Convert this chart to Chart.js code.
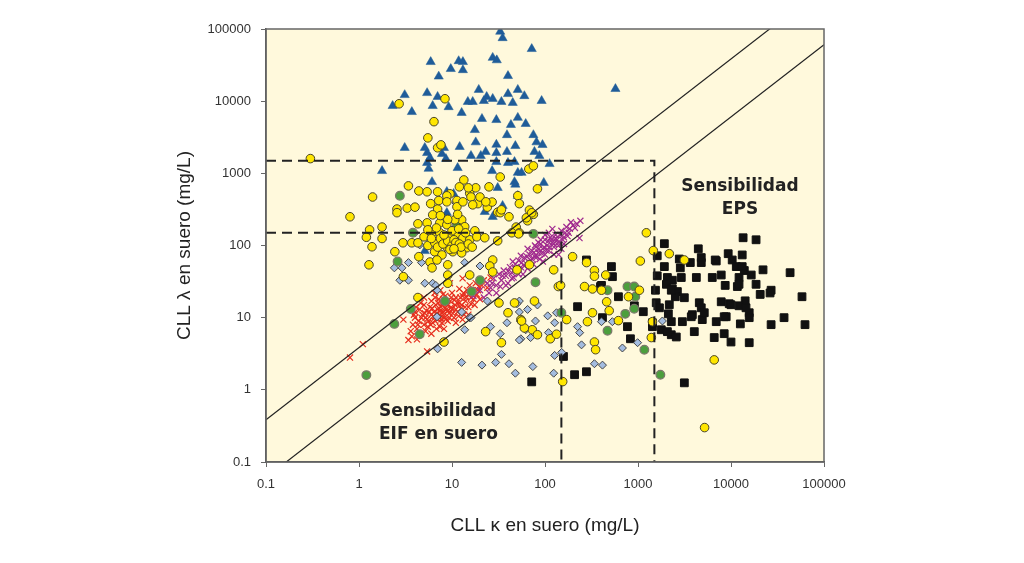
<!DOCTYPE html>
<html>
<head>
<meta charset="utf-8">
<script src="https://cdn.jsdelivr.net/npm/chart.js@4.4.1/dist/chart.umd.min.js"></script>
<style>
  html, body { margin: 0; padding: 0; background: #fff; }
  canvas { display: block; }
</style>
</head>
<body>
<canvas id="cllChart" width="1024" height="563"></canvas>
<script>
// [kappa, lambda] pairs in mg/L
const blueTriangles = [
  [33,92000],[35,75000],[72,53000],[5.9,35000],[11.8,36000],[13.1,35000],[27.4,40000],[30.3,37000],
  [9.7,28000],[13.1,27000],[7.2,22000],[40,22400],[3.1,12200],[5.4,13000],[7,11500],[19.4,14400],
  [23.6,11500],[27.4,10800],[40,12600],[51,14400],[60,11800],[2.3,8600],[6.2,8600],[9.2,8300],
  [14.8,9800],[16.7,9800],[22,10100],[34,9800],[45,9500],[92,10100],[3.7,7100],[12.7,6900],
  [21,5700],[30,5500],[51,5900],[43,4700],[62,4850],[17.6,4000],[39,3400],[75,3400],[18,2700],
  [30,2500],[48,2400],[81,2700],[94,2480],[3.1,2260],[5.1,2260],[8.2,2260],[12.1,2330],[5.4,1920],
  [7.8,1860],[16,1750],[20.4,1750],[23,1990],[30,1920],[39,1990],[77,1990],[87,1750],[5.8,1640],
  [8.6,1590],[30,1440],[47,1440],[112,1350],[1.77,1080],[5.4,1400],[5.6,1160],[11.5,1190],[27,1080],
  [40,1400],[51,1020],[56,1020],[6.1,760],[47,760],[97,740],[31,630],[572,14800],[8.8,555],[10.4,520],
  [48,700],[51,488],[35,355],[8.8,284],[22.5,293],[27.4,250],[5.1,84]
];
const yellowCircles = [
  [0.3,1600],[2.7,9200],[8.4,10800],[6.4,5200],[5.5,3100],[7.0,2260],[7.6,2480],[33,890],[13.4,810],
  [67,1150],[75,1270],[83,610],[51,490],[53,380],[1.4,470],[3.4,670],[4.4,570],[5.4,555],[0.8,250],
  [1.3,165],[1.2,130],[1.77,180],[1.77,125],[2.56,320],[2.56,285],[3.3,330],[4,340],[5.9,380],[7,320],
  [7.2,420],[9.5,520],[11.3,420],[15.5,530],[18,630],[15,630],[19,380],[24,340],[27,400],[20,470],
  [25,650],[31,290],[33,285],[41,250],[49,180],[65,220],[75,270],[68,310],[53,150],[16,470],[12,650],
  [7.0,555],[8.8,488],[23.1,403],[34,312],[8.8,403],[11.3,344],[13.1,403],[16.7,366],[12.7,227],
  [4.3,200],[5.4,206],[6.2,266],[7.4,206],[8.8,194],[10.7,227],[13.7,182],[17.6,160],[1.38,96],
  [2.43,82],[2.97,109],[3.7,109],[4.3,109],[5.0,132],[6.1,150],[7.4,150],[8.4,120],[9.5,132],
  [11.3,141],[13.1,128],[15.5,120],[18.5,132],[22.5,128],[8.8,96],[11.3,96],[14.4,93],[6.5,82],
  [7.8,74],[10.2,82],[12.7,79],[5.8,59],[6.9,63],[9.0,54],[6.1,49],[4.4,70],[1.28,54],[3.0,37],
  [9.0,39],[9.0,30],[27.4,63],[25.5,52],[27.4,43],[31,116],[44,150],[52,145],[50,46],[68,54],
  [63,242],[72,284],[5.5,100],[6.5,110],[7,95],[7.5,125],[8,105],[9,115],[10,100],[10.5,120],
  [11,110],[12,105],[12.5,95],[9.5,88],[10.5,90],[6,125],[8.2,140],[10,160],[11.8,170],[14,150],
  [15,105],[16.5,95],[6.8,175],[5.5,165],[9,230],[7.5,260],[11.5,270],
  [15.5,39],[4.3,19],[32,16],[47,16],[77,17],[139,27],[40,11.7],[55,9.4],[73,6.8],[23,6.4],
  [34,4.5],[8.2,4.6],[83,5.8],[114,5.1],[133,5.9],[60,7.2],
  [1230,150],[1460,85],[2170,77],[3150,63],[1060,61],[198,70],[280,58],[340,45],[340,37.5],[450,39],
  [266,27],[324,25],[405,24],[1035,24],[790,19.5],[460,16.6],[490,12.5],[324,11.7],[286,8.8],
  [147,28],[124,46],[56,9],[171,9.4],[340,4.6],[350,3.6],[1390,5.3],[1430,8.8],[616,9.1],
  [155,1.3],[6600,2.6],[5200,0.3]
];
const greenCircles = [
  [2.75,488],[75,145],[3.8,150],[11.3,194],[2.6,60],[3.6,13.2],[2.4,8.2],[4.5,5.9],[8.4,17],
  [20,33],[16.3,23],[1.2,1.6],[79,31],[150,11.7],[770,27],[910,27],[470,24],[935,19.5],
  [730,11.3],[910,13.3],[470,6.6],[1170,3.6],[1740,1.62]
];
const grayDiamonds = [
  [3.4,33],[6.2,30],[6.7,28],[6.9,24],[6.9,10.3],[12.7,12],[15.5,10],[13.7,6.8],[7.0,3.7],
  [12.7,2.4],[21,2.2],[29.5,2.4],[34,3.1],[41,2.3],[48,1.7],[74,2.1],[124,1.7],[55,5.1],[70,5.3],
  [109,6.2],[26,7.5],[33,6],[39,8.5],[53,12],[65,13],[79,9],[83,15],[53,17],[107,10.6],[2.4,49],
  [2.9,49],[3.4,58],[4,150],[4.7,58],[2.75,33],[5.1,30],[13.7,58],[20,52],[24,17],[16,10],
  [133,11.7],[224,7.5],[247,4.2],[340,2.3],[415,2.2],[50,15.6],[55,8.8],[62,6.8],[53,4.9],
  [127,8.5],[127,3],[151,3.3],[236,6.2],[405,8.8],[530,8.8],[680,3.8],[990,4.5],[1830,9],
  [11,390],[4.5,102]
];
const blackSquares = [
  [1920,106],[4450,90],[13500,128],[18600,120],[1610,72],[2780,65],[3650,58],[4790,58],[6940,61],
  [9330,77],[10300,63],[13200,74],[1920,51],[2850,49],[11400,51],[13900,45],[22100,46],[43200,42],
  [1610,38],[2070,36],[2920,36],[4240,36],[6290,36],[7850,39],[12200,36],[16500,39],[2020,29],
  [2340,25],[2650,23],[8660,28],[11700,27],[18600,29],[27000,24],[58000,19.5],[2520,19.5],
  [3150,18.9],[20600,21],[1570,16.1],[1700,13.7],[2170,15.1],[4560,16.1],[7850,16.6],[9570,15.6],
  [14200,17.1],[518,51],[531,37],[395,27],[616,19.5],[914,14.6],[1140,12.1],[415,10],[770,7.5],
  [2120,11.3],[3840,11],[4910,9.4],[6940,8.8],[8880,10.3],[15700,11.7],[37200,10],[62500,8],
  [27000,8],[12600,8.2],[3000,8.8],[1430,7.5],[1780,6.8],[2280,5.8],[4030,6.4],[6600,5.3],
  [8450,6.0],[10000,4.6],[15700,4.5],[829,5.1],[224,14.2],[279,63],[208,1.62],[279,1.78],
  [72,1.29],[3150,1.25],[158,2.9],[405,28],[4790,68],[6770,63],[13200,51],[2340,33],[12200,29],
  [26300,22],[1540,24],[2280,24],[4790,13.7],[5160,11.7],[10000,15.1],[12200,14.6],[14500,13.7],
  [1430,8.5],[2280,8.8],[3740,10.3],[8450,10.3],[15700,10],[2070,6.4],[2580,5.4]
];
const purpleCrosses = [
  [17,20],[20,24],[22,19],[24,30],[26,26],[28,35],[30,28],[32,40],[34,33],[36,45],[38,38],[40,30],
  [42,50],[44,42],[46,36],[48,55],[50,46],[52,62],[55,50],[58,40],[60,68],[62,57],[65,48],[68,75],
  [70,62],[72,85],[75,55],[78,70],[80,95],[85,80],[88,65],[90,105],[95,90],[100,75],[100,120],
  [105,100],[110,85],[115,130],[120,110],[125,95],[130,140],[135,120],[140,100],[150,160],[160,130],
  [170,180],[180,150],[200,190],[220,200],[240,220],[150,90],[125,75],[95,60],[85,110],[110,150],
  [65,90],[55,72],[45,60],[38,28],[30,22],[120,170],[140,75],[160,105],[190,210],[235,127],
  [25,22],[27,30],[33,27],[35,38],[40,44],[44,35],[48,48],[52,40],[56,58],[60,52],[64,70],[68,58],
  [72,66],[76,80],[82,70],[86,90],[92,78],[98,95],[104,85],[108,115],[112,95],[118,120],[124,105],
  [130,125],[138,110],[145,140],[155,120],[165,150],[175,135],[185,170],[210,175],[100,140],[90,120],
  [78,100]
];
const redCrosses = [
  [3.4,4.9],[3.6,6.5],[3.8,8],[4,10],[4,12],[4.2,7],[4.4,9],[4.5,13],[4.6,6],[4.8,11],[5,8],[5,15],
  [5.2,10],[5.3,12.5],[5.5,7.5],[5.6,9],[5.8,14],[6,11],[6,17],[6.2,8.5],[6.4,12],[6.5,10],[6.7,15],
  [6.8,7],[7,13],[7,9.5],[7.2,18],[7.4,11],[7.6,14],[7.8,8.5],[8,12],[8,16],[8.3,10],[8.5,20],
  [8.7,13],[9,9],[9,15],[9.3,11.5],[9.6,17],[10,13],[10,22],[10.5,10],[10.8,15],[11,19],[11.5,12],
  [12,25],[12,16],[12.5,13.5],[13,20],[13.5,11],[14,17],[14.5,24],[15,14],[15.5,28],[16,19],[17,22],
  [17.5,15],[18,30],[19,24],[20,18],[21,28],[22,33],[24,26],[5.4,3.4],[1.1,4.3],[0.8,2.8],[4.2,5],
  [5,19],[6.5,22],[3.7,5.5],[8.2,7],[11,8.5],[7.5,24],[9.5,30],[13,35],[15,11],[4.6,16],[26,36],
  [3,9.4],[13,9.4],
  [4.3,8],[4.7,10],[5.1,11.5],[5.4,9.5],[5.7,12],[5.9,8],[6.1,13.5],[6.3,10.5],[6.6,9],[6.9,11.5],
  [7.1,16],[7.3,10],[7.5,12.5],[7.7,9.5],[7.9,15],[8.1,11],[8.4,13.5],[8.6,9.5],[8.9,17],[9.1,12.5],
  [9.4,10],[9.8,14],[10.2,11.5],[10.6,17.5],[11,13],[11.4,16],[11.8,10.5],[12.3,19],[12.8,15],
  [13.3,22],[13.8,14],[14.3,19],[15,21],[16,15.5],[16.5,24],[17,18],[18.5,21],[19.5,27],[5.2,6.5],
  [4.1,14],[3.9,11],[6.6,19],[8,21],[9.8,19],[6,6],[7.4,7.5]
];

const tickValues = [0.1, 1, 10, 100, 1000, 10000, 100000];
const tickLabels = ['0.1', '1', '10', '100', '1000', '10000', '100000'];
const ratioLimits = [0.26, 1.65];   // kappa/lambda reference range
const epsLimit = 1500;
const eifLimit = 150;

const toPoints = arr => arr.map(p => ({ x: p[0], y: p[1] }));
const fontFamily = '"Liberation Sans", Arial, sans-serif';

function ratioLine(r) {
  return [tickValues[0], tickValues[tickValues.length - 1]].map(x => ({ x: x, y: x / r }));
}
function cornerLine(limit) {
  return [{ x: 0.1, y: limit }, { x: limit, y: limit }, { x: limit, y: 0.1 }];
}

const lineBase = { showLine: true, pointRadius: 0, fill: false, borderColor: '#222' };

const plotBackground = {
  id: 'plotBackground',
  beforeDraw(chart) {
    const { ctx, chartArea: a } = chart;
    ctx.save();
    ctx.fillStyle = '#FFF9DC';
    ctx.fillRect(a.left, a.top, a.right - a.left, a.bottom - a.top);
    ctx.restore();
  },
  afterDraw(chart) {
    const { ctx, chartArea: a } = chart;
    ctx.save();
    ctx.strokeStyle = '#666';
    ctx.lineWidth = 1.5;
    ctx.strokeRect(a.left, a.top, a.right - a.left, a.bottom - a.top);
    ctx.restore();
  }
};

const notes = [
  { lines: ['Sensibilidad', 'EPS'], x: 12500, y: 650, align: 'center' },
  { lines: ['Sensibilidad', 'EIF en suero'], x: 1.64, y: 0.5, align: 'left' }
];

const noteLabels = {
  id: 'noteLabels',
  afterDatasetsDraw(chart) {
    const { ctx, scales } = chart;
    ctx.save();
    ctx.font = 'bold 17px "DejaVu Sans", sans-serif';
    ctx.fillStyle = '#222';
    ctx.textBaseline = 'middle';
    notes.forEach(n => {
      const px = scales.x.getPixelForValue(n.x);
      const py = scales.y.getPixelForValue(n.y);
      ctx.textAlign = n.align;
      n.lines.forEach((t, i) => ctx.fillText(t, px, py + i * 23));
    });
    ctx.restore();
  }
};

function axisOptions(title, isX) {
  return {
    type: 'logarithmic',
    min: 0.1,
    max: 100000,
    afterBuildTicks: axis => { axis.ticks = tickValues.map(v => ({ value: v })); },
    afterFit: axis => { if (isX) { axis.height = 81; } else { axis.width = 100; } },
    ticks: {
      autoSkip: false,
      maxRotation: 0,
      padding: 10,
      color: '#333',
      font: { family: fontFamily, size: 13 },
      callback: (v, i) => tickLabels[i]
    },
    grid: { drawOnChartArea: false, drawTicks: true, tickLength: 5, color: '#666' },
    border: { display: true, color: '#555', width: 1.5 },
    title: {
      display: true,
      text: title,
      color: '#222',
      font: { family: fontFamily, size: 19 },
      padding: isX ? { top: 0, bottom: 6 } : { top: 7, bottom: 0 }
    }
  };
}

new Chart(document.getElementById('cllChart').getContext('2d'), {
  type: 'scatter',
  data: {
    datasets: [
      Object.assign({ data: cornerLine(epsLimit), borderWidth: 2, borderDash: [10, 6], borderColor: '#111' }, lineBase),
      Object.assign({ data: cornerLine(eifLimit), borderWidth: 2, borderDash: [10, 6], borderColor: '#111' }, lineBase),
      Object.assign({ data: ratioLine(ratioLimits[0]), borderWidth: 1.2 }, lineBase),
      Object.assign({ data: ratioLine(ratioLimits[1]), borderWidth: 1.2 }, lineBase),
      {
        label: 'amarillo', data: toPoints(yellowCircles), pointStyle: 'circle', pointRadius: 4.3,
        backgroundColor: '#FFE600', borderColor: '#4a4528', borderWidth: 1
      },
      {
        label: 'verde', data: toPoints(greenCircles), pointStyle: 'circle', pointRadius: 4.3,
        backgroundColor: '#4C9F3D', borderColor: '#7a7a6a', borderWidth: 1.3
      },
      {
        label: 'rombos', data: toPoints(grayDiamonds), pointStyle: 'rectRot', pointRadius: 4,
        backgroundColor: '#A3BCDF', borderColor: '#444', borderWidth: 1
      },
      {
        label: 'cuadrados', data: toPoints(blackSquares), pointStyle: 'rect', pointRadius: 5.5,
        backgroundColor: '#111', borderColor: '#111', borderWidth: 1
      },
      {
        label: 'morado', data: toPoints(purpleCrosses), pointStyle: 'crossRot', pointRadius: 4.3,
        backgroundColor: '#A02B8F', borderColor: '#A02B8F', borderWidth: 1.2
      },
      {
        label: 'rojo', data: toPoints(redCrosses), pointStyle: 'crossRot', pointRadius: 4.3,
        backgroundColor: '#E62E1E', borderColor: '#E62E1E', borderWidth: 1.2
      },
      {
        label: 'triangulos', data: toPoints(blueTriangles), pointStyle: 'triangle', pointRadius: 5.3,
        backgroundColor: '#1F5C99', borderColor: '#1F5C99', borderWidth: 0.5
      }
    ]
  },
  options: {
    responsive: false,
    animation: false,
    events: [],
    layout: { padding: { left: 166, right: 200, top: 29, bottom: 20 } },
    plugins: { legend: { display: false }, tooltip: { enabled: false } },
    scales: {
      x: axisOptions('CLL κ en suero (mg/L)', true),
      y: axisOptions('CLL λ en suero (mg/L)', false)
    }
  },
  plugins: [plotBackground, noteLabels]
});
</script>
</body>
</html>
